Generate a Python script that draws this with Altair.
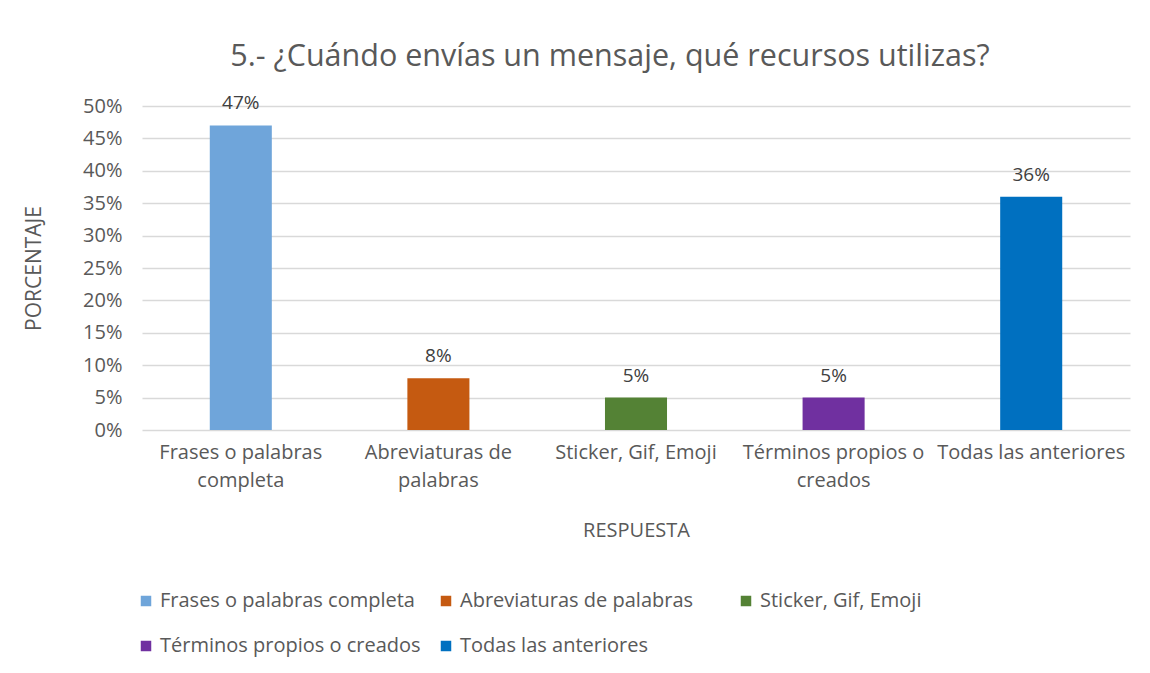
import altair as alt
import pandas as pd

categorias = [
    "Frases o palabras completa",
    "Abreviaturas de palabras",
    "Sticker, Gif, Emoji",
    "Términos propios o creados",
    "Todas las anteriores",
]
valores = [0.47, 0.08, 0.05, 0.05, 0.36]
colores = ["#6FA5DA", "#C55A11", "#548235", "#7030A0", "#0070C0"]
etiquetas_eje = [
    ["Frases o palabras", "completa"],
    ["Abreviaturas de", "palabras"],
    ["Sticker, Gif, Emoji"],
    ["Términos propios o", "creados"],
    ["Todas las anteriores"],
]
ticks_y = [0, 0.05, 0.10, 0.15, 0.20, 0.25, 0.30, 0.35, 0.40, 0.45, 0.50]
titulo = "5.- ¿Cuándo envías un mensaje, qué recursos utilizas?"

df = pd.DataFrame({"respuesta": categorias, "valor": valores})

expr = ""
for c, lab in zip(categorias, etiquetas_eje):
    arr = "[" + ",".join("'" + s + "'" for s in lab) + "]"
    expr += f"datum.value == '{c}' ? {arr} : "
expr += "datum.value"

FONT = "Open Sans"
GRAY = "#595959"

x = alt.X(
    "respuesta:N",
    sort=categorias,
    title="RESPUESTA",
    scale=alt.Scale(paddingInner=0.686, paddingOuter=0.343),
    axis=alt.Axis(
        labelAngle=0,
        labelExpr=expr,
        labelFontSize=20,
        labelColor=GRAY,
        labelFont=FONT,
        labelPadding=22,
        labelLineHeight=28,
        labelBaseline="middle",
        ticks=False,
        domain=False,
        titleFontSize=20,
        titleFont=FONT,
        titleColor=GRAY,
        titleFontWeight="normal",
        titlePadding=30,
        labelLimit=300,
        labelOverlap=False,
    ),
)

y = alt.Y(
    "valor:Q",
    title="PORCENTAJE",
    scale=alt.Scale(domain=[0, 0.5], nice=False),
    axis=alt.Axis(
        format=".0%",
        values=ticks_y,
        labelFontSize=20,
        labelColor=GRAY,
        labelFont=FONT,
        labelPadding=20,
        labelOverlap=False,
        ticks=False,
        domain=False,
        gridColor="#D9D9D9",
        gridWidth=1.3,
        titleFontSize=21,
        titleFont=FONT,
        titleColor=GRAY,
        titleFontWeight="normal",
        titlePadding=38,
    ),
)

bars = alt.Chart(df).mark_bar().encode(
    x=x,
    y=y,
    color=alt.Color(
        "respuesta:N",
        sort=categorias,
        scale=alt.Scale(domain=categorias, range=colores),
        legend=alt.Legend(
            title=None,
            orient="none",
            legendX=-6,
            legendY=485,
            direction="horizontal",
            columns=3,
            gridAlign="all",
            columnPadding=15,
            rowPadding=25,
            symbolType="square",
            symbolSize=110,
            symbolStrokeWidth=0,
            labelFontSize=20,
            labelFont=FONT,
            labelColor=GRAY,
            labelOffset=4,
            labelLimit=400,
            padding=0,
        ),
    ),
)

text = alt.Chart(df).mark_text(
    baseline="bottom", dy=-12, fontSize=19, font=FONT, color="#404040"
).encode(
    x=x,
    y=y,
    text=alt.Text("valor:Q", format=".0%"),
)

chart = (
    alt.layer(bars, text)
    .properties(
        width=988,
        height=324,
        title=alt.TitleParams(
            titulo,
            fontSize=30.5,
            font=FONT,
            color=GRAY,
            fontWeight="normal",
            anchor="middle",
            dx=-26,
            offset=22,
        ),
        autosize=alt.AutoSizeParams(type="none"),
        padding={"left": 134, "top": 98, "right": 10, "bottom": 235},
    )
    .configure_view(stroke=None)
)

chart.save("out.html", embed_options={"renderer": "svg", "actions": False})
